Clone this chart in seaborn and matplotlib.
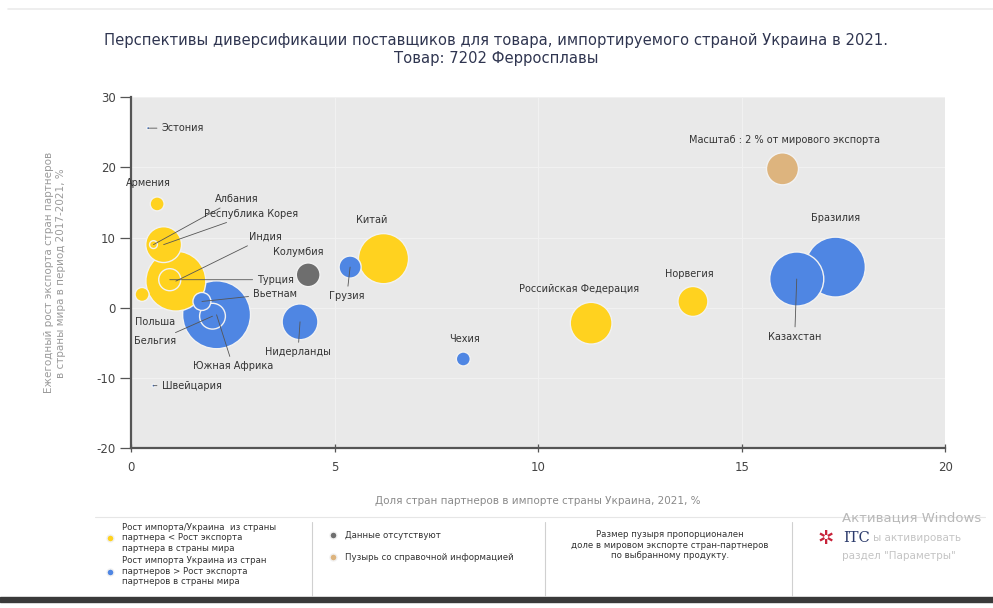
import pandas as pd
import seaborn as sns
import matplotlib.pyplot as plt
from matplotlib.lines import Line2D
from matplotlib.patches import Rectangle

# data
countries = ['Эстония', 'Армения', 'Албания', 'Республика Корея', 'Индия', 'Турция',
             'Польша', 'Вьетнам', 'Бельгия', 'Южная Африка', 'Колумбия', 'Грузия',
             'Китай', 'Нидерланды', 'Чехия', 'Российская Федерация', 'Норвегия',
             'Масштаб', 'Казахстан', 'Бразилия', 'Швейцария']
import_share = [0.42, 0.64, 0.55, 0.8, 1.1, 0.95,
                0.27, 1.74, 2.0, 2.1, 4.35, 5.38,
                6.2, 4.15, 8.16, 11.3, 13.8,
                16.0, 16.35, 17.3, 0.55]
export_growth = [25.6, 14.8, 9.0, 9.0, 3.8, 4.0,
                 1.9, 0.9, -1.2, -1.0, 4.7, 5.8,
                 7.0, -2.0, -7.3, -2.2, 0.9,
                 19.8, 4.1, 5.8, -11.1]
world_share = [0.02, 0.38, 0.12, 2.5, 7.0, 0.95,
               0.38, 0.63, 1.3, 9.0, 1.1, 0.95,
               4.9, 2.5, 0.38, 3.4, 1.75,
               2.0, 5.7, 7.0, 0.02]
group = ['higher', 'lower', 'lower', 'lower', 'lower', 'lower',
         'lower', 'higher', 'higher', 'higher', 'na', 'higher',
         'lower', 'higher', 'higher', 'lower', 'lower',
         'ref', 'higher', 'higher', 'higher']

palette = {'lower': '#FFD21F', 'higher': '#4F86E3', 'na': '#6E6E6E', 'ref': '#DDB47E'}

df = pd.DataFrame({'country': countries, 'x': import_share, 'y': export_growth,
                   'size': world_share, 'group': group})
df = df.sort_values('size', ascending=False)

# label placement: (x, y, ha, leader line to bubble)
labels = {
    'Эстония': (0.75, 25.6, 'left', True),
    'Армения': (0.42, 17.8, 'center', False),
    'Албания': (2.05, 15.5, 'left', True),
    'Республика Корея': (1.8, 13.4, 'left', True),
    'Индия': (2.9, 10.1, 'left', True),
    'Колумбия': (4.1, 8.0, 'center', False),
    'Турция': (3.1, 4.0, 'left', True),
    'Вьетнам': (3.0, 2.0, 'left', True),
    'Грузия': (5.3, 1.7, 'center', True),
    'Китай': (5.9, 12.5, 'center', False),
    'Польша': (0.6, -2.0, 'center', False),
    'Бельгия': (0.6, -4.8, 'center', True),
    'Южная Африка': (2.5, -8.3, 'center', True),
    'Нидерланды': (4.1, -6.3, 'center', True),
    'Чехия': (8.2, -4.4, 'center', False),
    'Российская Федерация': (11.0, 2.7, 'center', False),
    'Норвегия': (13.7, 4.8, 'center', False),
    'Масштаб': (16.05, 23.9, 'center', False),
    'Бразилия': (17.3, 12.8, 'center', False),
    'Казахстан': (16.3, -4.1, 'center', True),
    'Швейцария': (0.75, -11.1, 'left', True),
}

sns.set_style('white')
plt.rcParams['font.family'] = ['DejaVu Sans']
plt.rcParams['axes.unicode_minus'] = False

fig = plt.figure(figsize=(9.93, 6.08), dpi=100)
ax = fig.add_axes([0.132, 0.263, 0.820, 0.577])
ax.set_facecolor('#E9E9E9')

sns.scatterplot(data=df, x='x', y='y', size='size', hue='group', palette=palette,
                sizes=(0, 2655), size_norm=(0, 10), edgecolor='#F2F2F2',
                linewidth=1.0, alpha=1, legend=False, ax=ax, zorder=3)

for c, (tx, ty, ha, lead) in labels.items():
    row = df[df.country == c].iloc[0]
    txt = 'Масштаб : 2 % от мирового экспорта' if c == 'Масштаб' else c
    if lead:
        ax.annotate(txt, xy=(row.x, row.y), xytext=(tx, ty), ha=ha, va='center',
                    fontsize=7, color='#333333', zorder=5,
                    arrowprops=dict(arrowstyle='-', color='#555555', lw=0.6,
                                    shrinkA=1, shrinkB=0))
    else:
        ax.text(tx, ty, txt, ha=ha, va='center', fontsize=7, color='#333333', zorder=5)

ax.set_xlim(0, 20)
ax.set_ylim(-20, 30)
ax.set_xticks([0, 5, 10, 15, 20])
ax.set_yticks([-20, -10, 0, 10, 20, 30])
ax.grid(True, color='#F1F1F1', lw=0.8, zorder=0)
ax.set_axisbelow(True)
for s in ['top', 'right']:
    ax.spines[s].set_visible(False)
for s in ['left', 'bottom']:
    ax.spines[s].set_color('#555555')
    ax.spines[s].set_linewidth(1.6)
ax.tick_params(axis='y', length=8, width=0.9, color='#555555', direction='out',
               labelsize=8.5, labelcolor='#444444', left=True, pad=3)
ax.tick_params(axis='x', length=6, width=0.9, color='#555555', direction='inout',
               labelsize=8.5, labelcolor='#444444', bottom=True, pad=6)

ax.set_xlabel('Доля стран партнеров в импорте страны Украина, 2021, %',
              fontsize=7.5, color='#8A8A8A', labelpad=16)
ax.set_ylabel('Ежегодный рост экспорта стран партнеров\nв страны мира в период 2017-2021, %',
              fontsize=7.5, color='#9A9A9A', labelpad=22)

fig.text(0.5, 1 - 41 / 608, 'Перспективы диверсификации поставщиков для товара, импортируемого страной Украина в 2021.',
         ha='center', va='center', fontsize=10.6, color='#2F3550')
fig.text(0.5, 1 - 59 / 608, 'Товар: 7202 Ферросплавы', ha='center', va='center',
         fontsize=10.6, color='#2F3550')

# frame lines and legend area
def hline(y, x0, x1, color='#D8D8D8', lw=0.8):
    fig.add_artist(Line2D([x0 / 993, x1 / 993], [1 - y / 608, 1 - y / 608],
                          color=color, lw=lw))

def vline(x, y0, y1, color='#D0D0D0', lw=0.8):
    fig.add_artist(Line2D([x / 993, x / 993], [1 - y0 / 608, 1 - y1 / 608],
                          color=color, lw=lw))

hline(9, 8, 993, color='#EBEBEB', lw=1.2)
hline(517, 95, 985, color='#E6E6E6')
for xs in [312, 545, 792]:
    vline(xs, 522, 596)

def dot(x, y, color):
    fig.add_artist(Line2D([x / 993], [1 - y / 608], marker='o', markersize=5,
                          color=color, markeredgecolor='#F0F0F0', lw=0))

def ftext(x, y, s, ha='left', **kw):
    fig.text(x / 993, 1 - y / 608, s, ha=ha, va='center', fontsize=6.2,
             color='#333333', linespacing=1.28, **kw)

dot(110, 538, palette['lower'])
ftext(122, 538, 'Рост импорта/Украина  из страны\nпартнера < Рост экспорта\nпартнера в страны мира')
dot(110, 572, palette['higher'])
ftext(122, 571, 'Рост импорта Украина из стран\nпартнеров > Рост экспорта\nпартнеров в страны мира')
dot(333, 535, palette['na'])
ftext(345, 535, 'Данные отсутствуют')
dot(333, 557, palette['ref'])
ftext(345, 557, 'Пузырь со справочной информацией')
ftext(670, 545, 'Размер пузыря пропорционален\nдоле в мировом экспорте стран-партнеров\nпо выбранному продукту.', ha='center')

fig.text(842 / 993, 1 - 518 / 608, 'Активация Windows', ha='left', va='center',
         fontsize=9.5, color='#B8B8B8')
fig.text(873 / 993, 1 - 538 / 608, 'ы активировать', ha='left',
         va='center', fontsize=7.5, color='#C4C4C4')
fig.text(842 / 993, 1 - 556 / 608, 'раздел "Параметры"', ha='left', va='center',
         fontsize=7.5, color='#C4C4C4')
fig.text(843 / 993, 1 - 538 / 608, 'ITC', ha='left', va='center', fontsize=10.5,
         family='DejaVu Serif', color='#2B3A6B')
fig.text(818 / 993, 1 - 538 / 608, '✲', ha='left', va='center', fontsize=14, color='#C8233A')

fig.add_artist(Rectangle((0, 1 - 602 / 608), 1, 5 / 608, transform=fig.transFigure,
                         color='#3A3A3A'))

fig.savefig('out.png', dpi=100)
